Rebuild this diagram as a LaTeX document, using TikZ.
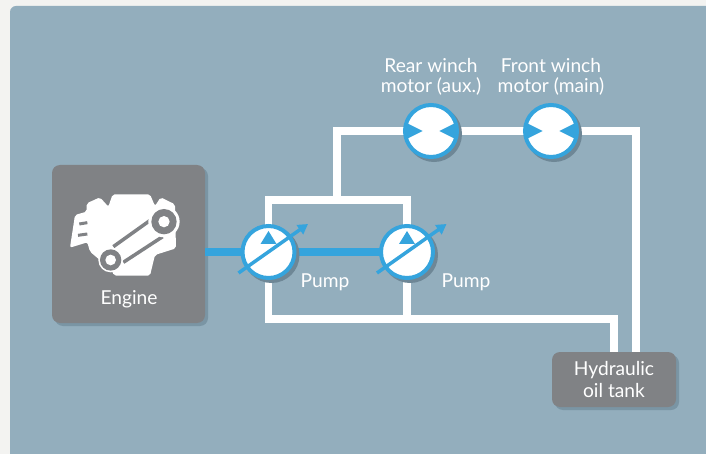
\documentclass[tikz,border=0pt]{standalone}
\usepackage{fontspec}
\setmainfont{Lato}
\usetikzlibrary{arrows.meta,shadows,backgrounds}
\definecolor{paper}{HTML}{F3F3F1}
\definecolor{panel}{HTML}{93AEBD}
\definecolor{boxgrey}{HTML}{808285}
\definecolor{boxshade}{HTML}{7A95A4}
\definecolor{discshade}{HTML}{6E8796}
\definecolor{oilblue}{HTML}{35A4DD}

\begin{document}
\begin{tikzpicture}[x=1pt,y=-1pt]
	\tikzstyle{lettre}=[text=white,font=\fontsize{19.2}{20.5}\selectfont,align=center,inner sep=0pt]
	\tikzstyle{bloc}=[lettre,fill=boxgrey,rounded corners=8pt,drop shadow={shadow xshift=3pt,shadow yshift=-3pt,opacity=1,fill=boxshade}]
	\tikzstyle{disque}=[circle,fill=white,draw=oilblue,line width=4pt,minimum size=52pt,inner sep=0pt,drop shadow={shadow xshift=3pt,shadow yshift=-3pt,opacity=1,fill=discshade,draw=discshade}]
	\tikzstyle{tuyau}=[draw=white,line width=7.5pt]
	\tikzstyle{arbre}=[draw=oilblue,line width=8pt]
	\useasboundingbox (0,0) rectangle (706,454);

	\node[bloc,minimum width=153pt,minimum height=158pt] (engine) at (128.5,244) {};
	\node[lettre] (enginetxt) at (129,299) {Engine};
	\draw[arbre] (engine.east |- 0,252) -- (407,252);
	\node[disque] (pumpa) at (268.5,252) {};
	\node[disque] (pumpb) at (407,252) {};
	\node[disque] (motora) at (431,131) {};
	\node[disque] (motorb) at (551,131) {};
	\node[bloc,minimum width=124pt,minimum height=55pt] (tank) at (614,379.5) {Hydraulic\\[1.5pt]oil tank};
	\node[lettre] (pumpatxt) at (325,282.5) {Pump};
	\node[lettre] (pumpbtxt) at (466,282.5) {Pump};
	\node[lettre] (motoratxt) at (431,77) {Rear winch\\motor (aux.)};
	\node[lettre] (motorbtxt) at (551,77) {Front winch\\motor (main)};
	\coordinate (up) at (337,200);
	\coordinate (low) at (407,319);
	\coordinate (tankb) at (636,352);

	\begin{scope}[on background layer]
		\fill[paper] (0,0) rectangle (706,454);
		\fill[panel,rounded corners=6pt] (10,6) rectangle (720,470);
		\draw[tuyau] (pumpa.center) |- (up) -| (pumpb.center);
		\draw[tuyau] (pumpa.center) |- (low) -- (pumpb.center);
		\draw[tuyau] (low) -| (tank.north);
		\draw[tuyau] (up) |- (motora.center) -- (motorb.center) -| (tankb);
	\end{scope}

	\foreach \p in {pumpa,pumpb} {
		\begin{scope}[shift={(\p)}]
			\fill[oilblue] (0,-21) -- (-8,-8) -- (8,-8) -- cycle;
			\draw[oilblue,line width=3.5pt,-{Triangle[length=10pt,width=11pt]}] (-30,21) -- (39.5,-28);
		\end{scope}
	}
	\foreach \m in {motora,motorb} {
		\begin{scope}[shift={(\m)}]
			\fill[oilblue] (-8.3,0) -- (-24.5,-8) -- (-24.5,8) -- cycle;
			\fill[oilblue] (8.3,0) -- (24.5,-8) -- (24.5,8) -- cycle;
		\end{scope}
	}

	% engine icon
	\begin{scope}[shift={(40,155)},x=0.3333pt,y=-0.3333pt]
		\fill[white,rounded corners=2pt] (140,145) -- (180,127) -- (205,155) -- (218,118) -- (330,118) -- (345,153) -- (362,127) -- (405,148) -- (408,280) -- (345,300) -- (330,362) -- (222,362) -- (215,345) -- (150,290) -- (142,262) -- (90,278) -- (105,180) -- (140,170) -- cycle;
		\draw[boxgrey,line width=3pt] (118,207) -- (142,203);
		\draw[boxgrey,line width=3pt] (114,241) -- (142,237);
		\draw[boxgrey,line width=3.5pt] (220,275) -- (332,195);
		\draw[boxgrey,line width=3.5pt] (250,322) -- (368,245);
		\fill[white] (372,200) circle (47);
		\fill[white] (212,315) circle (37);
		\fill[boxgrey] (372,200) circle (38);
		\fill[boxgrey] (212,315) circle (32);
		\fill[white] (372,200) circle (17);
		\fill[white] (212,315) circle (16);
	\end{scope}
\end{tikzpicture}
\end{document}
